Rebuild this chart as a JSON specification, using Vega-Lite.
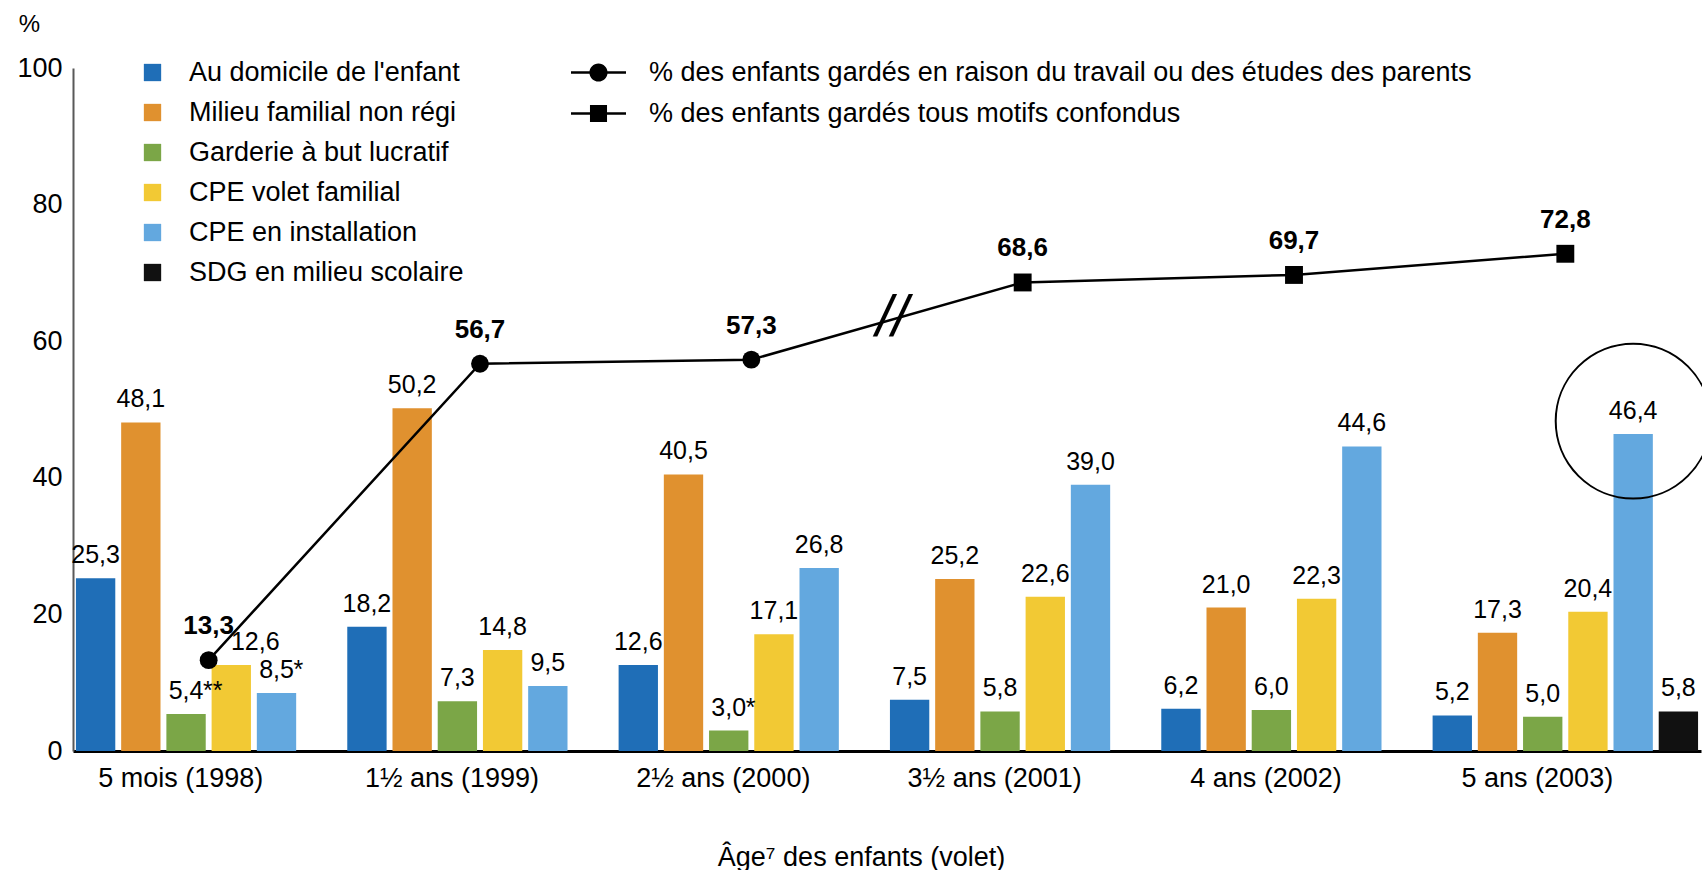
{
  "$schema": "https://vega.github.io/schema/vega-lite/v6.json",
  "width": 1628,
  "height": 683,
  "autosize": {"type": "none"},
  "padding": {"left": 73, "top": 68, "right": 1, "bottom": 119},
  "background": "white",
  "config": {
    "view": {"stroke": null},
    "font": "Liberation Sans",
    "axis": {"grid": false, "ticks": false}
  },
  "datasets": {
    "bars": [
      {"group": "5 mois (1998)", "serie": "Au domicile de l'enfant", "value": 25.3, "label": "25,3"},
      {"group": "5 mois (1998)", "serie": "Milieu familial non régi", "value": 48.1, "label": "48,1"},
      {"group": "5 mois (1998)", "serie": "Garderie à but lucratif", "value": 5.4, "label": "5,4", "star": "**"},
      {"group": "5 mois (1998)", "serie": "CPE volet familial", "value": 12.6, "label": "12,6"},
      {"group": "5 mois (1998)", "serie": "CPE en installation", "value": 8.5, "label": "8,5", "star": "*"},
      {"group": "1½ ans (1999)", "serie": "Au domicile de l'enfant", "value": 18.2, "label": "18,2"},
      {"group": "1½ ans (1999)", "serie": "Milieu familial non régi", "value": 50.2, "label": "50,2"},
      {"group": "1½ ans (1999)", "serie": "Garderie à but lucratif", "value": 7.3, "label": "7,3"},
      {"group": "1½ ans (1999)", "serie": "CPE volet familial", "value": 14.8, "label": "14,8"},
      {"group": "1½ ans (1999)", "serie": "CPE en installation", "value": 9.5, "label": "9,5"},
      {"group": "2½ ans (2000)", "serie": "Au domicile de l'enfant", "value": 12.6, "label": "12,6"},
      {"group": "2½ ans (2000)", "serie": "Milieu familial non régi", "value": 40.5, "label": "40,5"},
      {"group": "2½ ans (2000)", "serie": "Garderie à but lucratif", "value": 3.0, "label": "3,0", "star": "*"},
      {"group": "2½ ans (2000)", "serie": "CPE volet familial", "value": 17.1, "label": "17,1"},
      {"group": "2½ ans (2000)", "serie": "CPE en installation", "value": 26.8, "label": "26,8"},
      {"group": "3½ ans (2001)", "serie": "Au domicile de l'enfant", "value": 7.5, "label": "7,5"},
      {"group": "3½ ans (2001)", "serie": "Milieu familial non régi", "value": 25.2, "label": "25,2"},
      {"group": "3½ ans (2001)", "serie": "Garderie à but lucratif", "value": 5.8, "label": "5,8"},
      {"group": "3½ ans (2001)", "serie": "CPE volet familial", "value": 22.6, "label": "22,6"},
      {"group": "3½ ans (2001)", "serie": "CPE en installation", "value": 39.0, "label": "39,0"},
      {"group": "4 ans (2002)", "serie": "Au domicile de l'enfant", "value": 6.2, "label": "6,2"},
      {"group": "4 ans (2002)", "serie": "Milieu familial non régi", "value": 21.0, "label": "21,0"},
      {"group": "4 ans (2002)", "serie": "Garderie à but lucratif", "value": 6.0, "label": "6,0"},
      {"group": "4 ans (2002)", "serie": "CPE volet familial", "value": 22.3, "label": "22,3"},
      {"group": "4 ans (2002)", "serie": "CPE en installation", "value": 44.6, "label": "44,6"},
      {"group": "5 ans (2003)", "serie": "Au domicile de l'enfant", "value": 5.2, "label": "5,2"},
      {"group": "5 ans (2003)", "serie": "Milieu familial non régi", "value": 17.3, "label": "17,3"},
      {"group": "5 ans (2003)", "serie": "Garderie à but lucratif", "value": 5.0, "label": "5,0"},
      {"group": "5 ans (2003)", "serie": "CPE volet familial", "value": 20.4, "label": "20,4"},
      {"group": "5 ans (2003)", "serie": "CPE en installation", "value": 46.4, "label": "46,4"},
      {"group": "5 ans (2003)", "serie": "SDG en milieu scolaire", "value": 5.8, "label": "5,8"}
    ],
    "line": [
      {"group": "5 mois (1998)", "serie": "% des enfants gardés en raison du travail ou des études des parents", "value": 13.3, "label": "13,3"},
      {"group": "1½ ans (1999)", "serie": "% des enfants gardés en raison du travail ou des études des parents", "value": 56.7, "label": "56,7"},
      {"group": "2½ ans (2000)", "serie": "% des enfants gardés en raison du travail ou des études des parents", "value": 57.3, "label": "57,3"},
      {"group": "3½ ans (2001)", "serie": "% des enfants gardés tous motifs confondus", "value": 68.6, "label": "68,6"},
      {"group": "4 ans (2002)", "serie": "% des enfants gardés tous motifs confondus", "value": 69.7, "label": "69,7"},
      {"group": "5 ans (2003)", "serie": "% des enfants gardés tous motifs confondus", "value": 72.8, "label": "72,8"}
    ],
    "brk": [{"group": "3½ ans (2001)", "value": 63.3, "t": "//"}],
    "ann": [{"group": "5 ans (2003)", "serie": "CPE en installation", "value": 48.3}]
  },
  "layer": [
    {
      "data": {"name": "bars"},
      "mark": {"type": "bar"},
      "encoding": {
        "x": {
          "field": "group", "type": "nominal", "sort": null,
          "scale": {"domain": ["5 mois (1998)", "1½ ans (1999)", "2½ ans (2000)", "3½ ans (2001)", "4 ans (2002)", "5 ans (2003)"], "paddingInner": 0, "paddingOuter": 0},
          "axis": {
            "title": "Âge⁷ des enfants (volet)", "titleFontSize": 27, "titleFontWeight": "normal", "titleColor": "black",
            "titleX": 788, "titleY": 106, "titleAlign": "center", "titleBaseline": "middle", "titleAnchor": null,
            "labelAngle": 0, "labelFontSize": 27, "labelColor": "black", "labelPadding": 14, "labelOffset": -28,
            "domainColor": "black", "domainWidth": 3
          }
        },
        "xOffset": {
          "field": "serie", "type": "nominal", "sort": null,
          "scale": {"domain": ["Au domicile de l'enfant", "Milieu familial non régi", "Garderie à but lucratif", "CPE volet familial", "CPE en installation", "SDG en milieu scolaire"], "paddingInner": 0.13, "paddingOuter": 0.065}
        },
        "y": {
          "field": "value", "type": "quantitative",
          "scale": {"domain": [0, 100], "nice": false},
          "axis": {
            "title": "%", "titleAngle": 0, "titleFontSize": 24, "titleFontWeight": "normal", "titleColor": "black",
            "titleX": -44, "titleY": -44, "titleAlign": "center", "titleBaseline": "middle",
            "values": [0, 20, 40, 60, 80, 100], "labelFontSize": 27, "labelColor": "black", "labelPadding": 11,
            "domainColor": "#595959", "domainWidth": 2
          }
        },
        "color": {
          "field": "serie", "type": "nominal", "sort": null,
          "scale": {
            "domain": ["Au domicile de l'enfant", "Milieu familial non régi", "Garderie à but lucratif", "CPE volet familial", "CPE en installation", "SDG en milieu scolaire"],
            "range": ["#1F6EB7", "#E0912F", "#7BA647", "#F2C934", "#63A8DF", "#111111"]
          },
          "legend": {
            "title": null, "orient": "none", "legendX": 66, "legendY": -9, "direction": "vertical",
            "symbolType": "square", "symbolSize": 300, "symbolStrokeWidth": 0,
            "labelFontSize": 27, "labelColor": "black", "labelOffset": 23, "rowPadding": 12, "padding": 0, "labelLimit": 0
          }
        }
      }
    },
    {
      "data": {"name": "bars"},
      "transform": [{"filter": "!(datum.group === '5 mois (1998)' && datum.serie === 'CPE volet familial')"}],
      "mark": {"type": "text", "fontSize": 25, "color": "black", "baseline": "alphabetic", "align": "center", "dy": -15},
      "encoding": {
        "x": {"field": "group", "type": "nominal", "sort": null},
        "xOffset": {"field": "serie", "type": "nominal", "sort": null},
        "y": {"field": "value", "type": "quantitative"},
        "text": {"field": "label"}
      }
    },
    {
      "data": {"name": "bars"},
      "transform": [{"filter": "datum.group === '5 mois (1998)' && datum.serie === 'CPE volet familial'"}],
      "mark": {"type": "text", "fontSize": 25, "color": "black", "baseline": "alphabetic", "align": "center", "dx": 24, "dy": -15},
      "encoding": {
        "x": {"field": "group", "type": "nominal", "sort": null},
        "xOffset": {"field": "serie", "type": "nominal", "sort": null},
        "y": {"field": "value", "type": "quantitative"},
        "text": {"field": "label"}
      }
    },
    {
      "data": {"name": "bars"},
      "transform": [{"filter": "datum.star"}],
      "mark": {"type": "text", "fontSize": 25, "color": "black", "baseline": "alphabetic", "align": "left", "dx": 17, "dy": -15},
      "encoding": {
        "x": {"field": "group", "type": "nominal", "sort": null},
        "xOffset": {"field": "serie", "type": "nominal", "sort": null},
        "y": {"field": "value", "type": "quantitative"},
        "text": {"field": "star"}
      }
    },
    {
      "data": {"name": "line"},
      "mark": {"type": "line", "color": "black", "strokeWidth": 2.5},
      "encoding": {
        "x": {"field": "group", "type": "nominal", "sort": null},
        "y": {"field": "value", "type": "quantitative"}
      }
    },
    {
      "data": {"name": "line"},
      "mark": {"type": "point", "filled": true, "color": "black", "opacity": 1, "size": 320},
      "encoding": {
        "x": {"field": "group", "type": "nominal", "sort": null},
        "y": {"field": "value", "type": "quantitative"},
        "shape": {
          "field": "serie", "type": "nominal", "sort": null,
          "scale": {"domain": ["% des enfants gardés en raison du travail ou des études des parents", "% des enfants gardés tous motifs confondus"], "range": ["circle", "square"]},
          "legend": null
        }
      }
    },
    {
      "data": {"name": "line"},
      "mark": {"type": "point", "filled": true, "color": "black", "opacity": 0, "size": 10},
      "encoding": {
        "x": {"field": "group", "type": "nominal", "sort": null},
        "y": {"field": "value", "type": "quantitative"},
        "shape": {
          "field": "serie", "type": "nominal", "sort": null,
          "scale": {
            "domain": ["% des enfants gardés en raison du travail ou des études des parents", "% des enfants gardés tous motifs confondus"],
            "range": [
              "M-1,-0.045H-0.3V0.045H-1Z M0.3,-0.045H1V0.045H0.3Z M-0.33,0A0.33,0.33 0 1,1 0.33,0A0.33,0.33 0 1,1 -0.33,0Z",
              "M-1,-0.045H-0.3V0.045H-1Z M0.3,-0.045H1V0.045H0.3Z M-0.31,-0.31H0.31V0.31H-0.31Z"
            ]
          },
          "legend": {
            "title": null, "orient": "none", "legendX": 498, "legendY": -23, "direction": "vertical",
            "symbolSize": 3025, "symbolOpacity": 1, "symbolFillColor": "black", "symbolStrokeColor": "black", "symbolStrokeWidth": 0,
            "labelFontSize": 27, "labelColor": "black", "labelOffset": 23, "rowPadding": -16, "padding": 0, "labelLimit": 0
          }
        }
      }
    },
    {
      "data": {"name": "line"},
      "mark": {"type": "text", "fontSize": 26, "fontWeight": "bold", "color": "black", "baseline": "middle", "align": "center", "dy": -34},
      "encoding": {
        "x": {"field": "group", "type": "nominal", "sort": null},
        "y": {"field": "value", "type": "quantitative"},
        "text": {"field": "label"}
      }
    },
    {
      "data": {"name": "brk"},
      "mark": {"type": "text", "fontSize": 58, "fontWeight": "normal", "fontStyle": "italic", "color": "black", "baseline": "middle", "align": "center", "dx": 5},
      "encoding": {
        "x": {"field": "group", "type": "nominal", "sort": null, "bandPosition": 0},
        "y": {"field": "value", "type": "quantitative"},
        "text": {"field": "t"}
      }
    },
    {
      "data": {"name": "ann"},
      "mark": {"type": "point", "shape": "circle", "filled": false, "color": "black", "strokeWidth": 2, "size": 24000, "opacity": 1},
      "encoding": {
        "x": {"field": "group", "type": "nominal", "sort": null},
        "xOffset": {"field": "serie", "type": "nominal", "sort": null},
        "y": {"field": "value", "type": "quantitative"}
      }
    }
  ],
  "resolve": {"scale": {"shape": "independent"}, "legend": {"shape": "independent"}}
}
